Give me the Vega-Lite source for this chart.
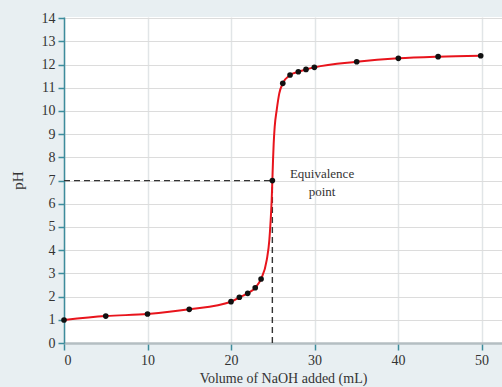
{
  "$schema": "https://vega.github.io/schema/vega-lite/v6.json",
  "width": 438,
  "height": 326,
  "autosize": "none",
  "padding": {"left": 64, "top": 17, "right": 0, "bottom": 44},
  "background": "#e8eff2",
  "config": {
    "view": {"fill": "white", "stroke": null},
    "font": "Liberation Serif"
  },
  "datasets": {
    "curve": [
      {"vol": 0, "ph": 0.99, "marker": true},
      {"vol": 5, "ph": 1.16, "marker": true},
      {"vol": 10, "ph": 1.25, "marker": true},
      {"vol": 15, "ph": 1.45, "marker": true},
      {"vol": 20, "ph": 1.78, "marker": true},
      {"vol": 21, "ph": 1.97, "marker": true},
      {"vol": 22, "ph": 2.14, "marker": true},
      {"vol": 22.9, "ph": 2.38, "marker": true},
      {"vol": 23.6, "ph": 2.76, "marker": true},
      {"vol": 24.28, "ph": 3.58, "marker": false},
      {"vol": 24.59, "ph": 4.44, "marker": false},
      {"vol": 24.75, "ph": 5.3, "marker": false},
      {"vol": 24.87, "ph": 6.16, "marker": false},
      {"vol": 24.95, "ph": 7.0, "marker": true},
      {"vol": 25.03, "ph": 7.88, "marker": false},
      {"vol": 25.11, "ph": 8.6, "marker": false},
      {"vol": 25.23, "ph": 9.32, "marker": false},
      {"vol": 25.47, "ph": 10.04, "marker": false},
      {"vol": 25.78, "ph": 10.76, "marker": false},
      {"vol": 26.2, "ph": 11.19, "marker": true},
      {"vol": 27.07, "ph": 11.55, "marker": true},
      {"vol": 28.06, "ph": 11.69, "marker": true},
      {"vol": 28.98, "ph": 11.79, "marker": true},
      {"vol": 29.98, "ph": 11.88, "marker": true},
      {"vol": 35.05, "ph": 12.12, "marker": true},
      {"vol": 40.04, "ph": 12.27, "marker": true},
      {"vol": 44.8, "ph": 12.34, "marker": true},
      {"vol": 49.9, "ph": 12.38, "marker": true}
    ],
    "guides": [
      {"vol": 0, "vol2": 24.95, "ph": 7, "ph2": 7},
      {"vol": 24.95, "vol2": 24.95, "ph": 0, "ph2": 7}
    ],
    "labels": [
      {"vol": 30.9, "ph": 7.28, "label": "Equivalence"},
      {"vol": 30.9, "ph": 6.52, "label": "point"}
    ]
  },
  "encoding": {
    "x": {
      "field": "vol", "type": "quantitative",
      "scale": {"domain": [0, 52.45], "nice": false, "zero": false},
      "axis": {
        "values": [0, 10, 20, 30, 40, 50],
        "labelOverlap": false,
        "title": "Volume of NaOH added (mL)",
        "titleFont": "Liberation Serif", "titleFontSize": 14, "titleFontWeight": "normal",
        "titleColor": "#333333", "titlePadding": 4,
        "labelFont": "Liberation Serif", "labelFontSize": 14, "labelColor": "#333333",
        "labelPadding": 3,
        "tickColor": "#3d8c9c", "tickSize": 7, "tickWidth": 1.5,
        "domainColor": "#b4bec2", "domainWidth": 2.5,
        "grid": true, "gridColor": "#e1e5e7", "gridWidth": 1.5
      }
    },
    "y": {
      "field": "ph", "type": "quantitative",
      "scale": {"domain": [0, 14.05], "nice": false, "zero": false},
      "axis": {
        "values": [0, 1, 2, 3, 4, 5, 6, 7, 8, 9, 10, 11, 12, 13, 14],
        "labelOverlap": false,
        "title": "pH",
        "titleFont": "Liberation Serif", "titleFontSize": 15, "titleFontWeight": "normal",
        "titleColor": "#333333", "titlePadding": 16,
        "labelFont": "Liberation Serif", "labelFontSize": 14, "labelColor": "#333333",
        "labelPadding": 3,
        "tickColor": "#3d8c9c", "tickSize": 6, "tickWidth": 1.5,
        "domainColor": "#3d8c9c", "domainWidth": 1.5,
        "grid": true, "gridColor": "#dcdcdc", "gridWidth": 1.2
      }
    }
  },
  "layer": [
    {
      "data": {"name": "guides"},
      "mark": {"type": "rule", "color": "#333333", "strokeWidth": 1.4, "strokeDash": [6, 4]},
      "encoding": {
        "x2": {"field": "vol2"},
        "y2": {"field": "ph2"}
      }
    },
    {
      "data": {"name": "curve"},
      "mark": {"type": "line", "color": "#e8141c", "strokeWidth": 2, "interpolate": "monotone"},
      "encoding": {
        "order": {"field": "vol"}
      }
    },
    {
      "data": {"name": "curve"},
      "transform": [{"filter": "datum.marker"}],
      "mark": {"type": "circle", "color": "#111111", "opacity": 1, "size": 32},
      "encoding": {}
    },
    {
      "data": {"name": "labels"},
      "mark": {"type": "text", "font": "Liberation Serif", "fontSize": 13, "color": "#333333", "align": "center", "baseline": "middle"},
      "encoding": {
        "text": {"field": "label"}
      }
    }
  ]
}
